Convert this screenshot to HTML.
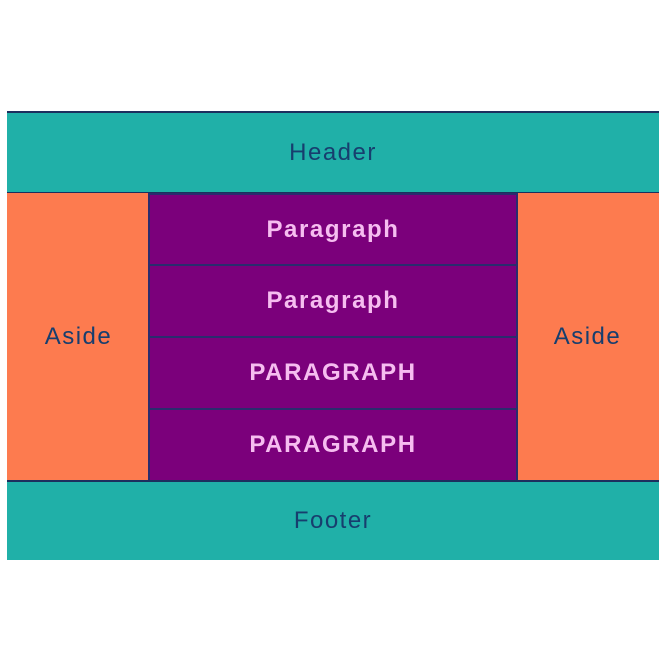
<!DOCTYPE html>
<html><head><meta charset="utf-8"><style>
html,body{margin:0;padding:0;background:#fff;width:665px;height:664px;overflow:hidden;font-family:"Liberation Sans",sans-serif;}
.b{position:absolute;box-sizing:border-box;display:flex;align-items:center;justify-content:center;font-size:24px;letter-spacing:1.5px;}
.t{background:#20b0a8;color:#173e6e;}
.o{background:#fd7b4f;color:#173e6e;}
.p{background:#7b007b;color:#f6bdf0;font-weight:bold;font-size:24px;letter-spacing:1.6px;}
</style></head><body>
<div class="b t" style="left:7px;top:111px;width:652px;height:83px;border-top:2px solid #1c2f5e;border-bottom:2px solid #1c2f5e;">Header</div>
<div class="b o" style="left:7px;top:193px;width:143px;height:288px;">Aside</div>
<div class="b o" style="left:516px;top:193px;width:143px;height:288px;">Aside</div>
<div class="b p" style="left:148px;top:193px;width:370px;height:73px;border:2px solid #2a2c6e;">Paragraph</div>
<div class="b p" style="left:148px;top:264px;width:370px;height:74px;border:2px solid #2a2c6e;">Paragraph</div>
<div class="b p" style="left:148px;top:336px;width:370px;height:74px;border:2px solid #2a2c6e;">PARAGRAPH</div>
<div class="b p" style="left:148px;top:408px;width:370px;height:74px;border:2px solid #2a2c6e;">PARAGRAPH</div>
<div class="b t" style="left:7px;top:480px;width:652px;height:80px;border-top:2px solid #1c2f5e;">Footer</div>
</body></html>
